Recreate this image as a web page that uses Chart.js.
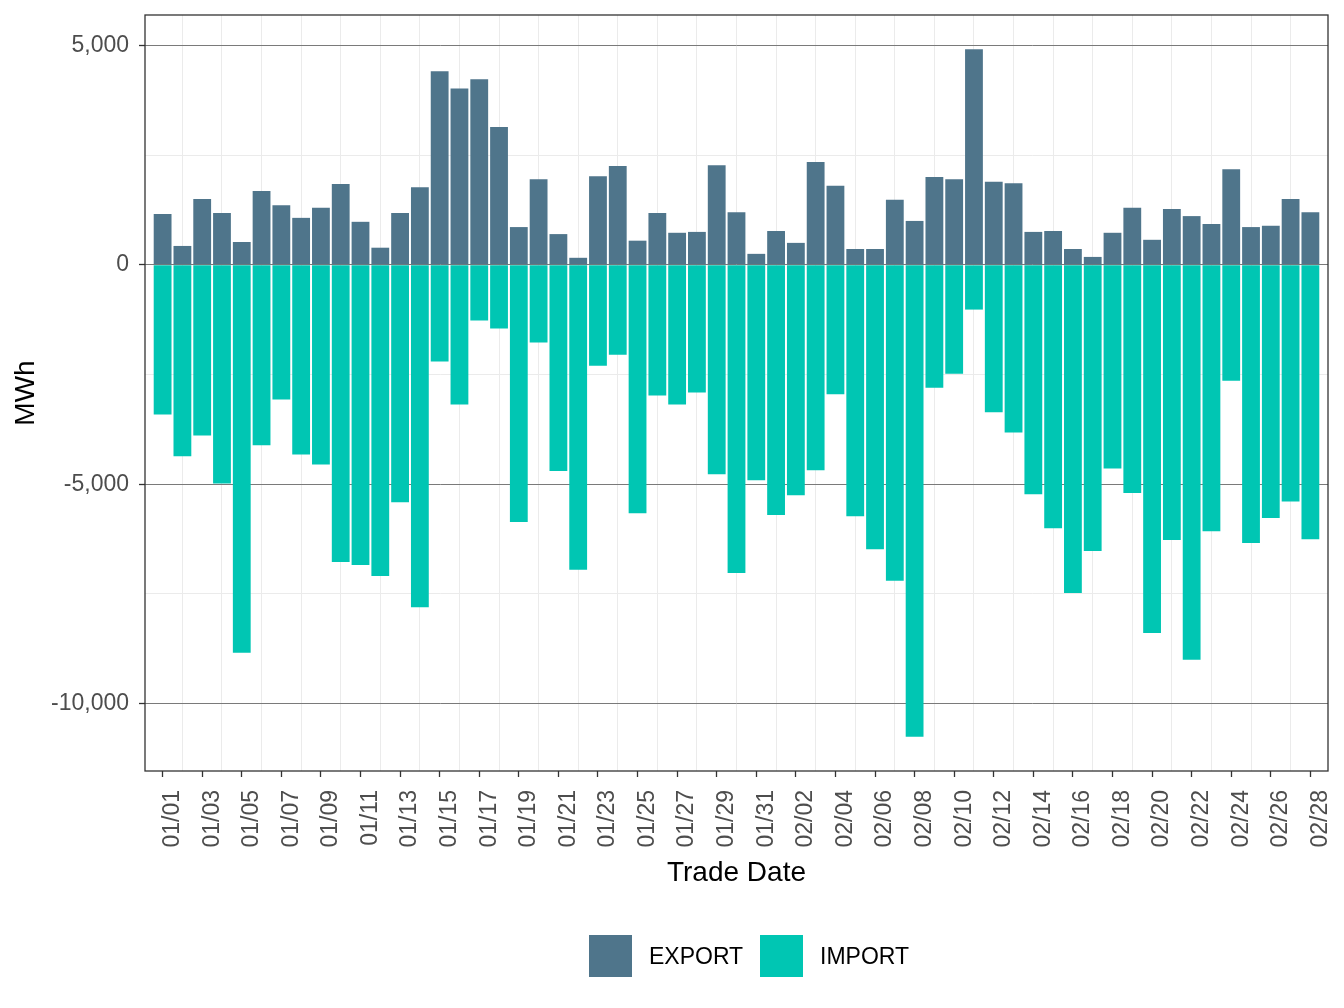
<!DOCTYPE html>
<html>
<head>
<meta charset="utf-8">
<script src="https://cdn.jsdelivr.net/npm/chart.js@4"></script>
<style>
  body { margin: 0; background: #fff; }
  .wrap { position: relative; width: 1344px; height: 1008px; font-family: "Liberation Sans", Arial, sans-serif; }
  .legend { position: absolute; top: 935px; left: 0; width: 1344px; height: 42px; }
  .legend-item { position: absolute; top: 0; height: 42px; display: flex; align-items: center; }
  .legend-box { width: 43px; height: 42px; margin-right: 17px; }
  .legend-text { font-size: 23px; color: #000; }
</style>
</head>
<body>
<div class="wrap">
  <canvas id="flowChart" width="1344" height="1008"></canvas>
  <div class="legend" id="legend"></div>
</div>
<script>
const tradeDates = [
  "01/01", "01/02", "01/03", "01/04", "01/05", "01/06", "01/07", "01/08", "01/09", "01/10",
  "01/11", "01/12", "01/13", "01/14", "01/15", "01/16", "01/17", "01/18", "01/19", "01/20",
  "01/21", "01/22", "01/23", "01/24", "01/25", "01/26", "01/27", "01/28", "01/29", "01/30",
  "01/31", "02/01", "02/02", "02/03", "02/04", "02/05", "02/06", "02/07", "02/08", "02/09",
  "02/10", "02/11", "02/12", "02/13", "02/14", "02/15", "02/16", "02/17", "02/18", "02/19",
  "02/20", "02/21", "02/22", "02/23", "02/24", "02/25", "02/26", "02/27", "02/28"
];

const exportMWh = [
  1160, 430, 1500, 1180, 520, 1680, 1360, 1070, 1300, 1840,
  980, 390, 1180, 1770, 4410, 4020, 4230, 3140, 860, 1950,
  700, 160, 2020, 2250, 550, 1180, 730, 750, 2270, 1200,
  250, 770, 500, 2340, 1800, 360, 360, 1480, 1000, 2000,
  1950, 4910, 1890, 1860, 750, 770, 360, 180, 730, 1300,
  570, 1270, 1110, 930, 2180, 860, 890, 1500, 1200
];

const importMWh = [
  -3410, -4360, -3890, -4980, -8840, -4110, -3070, -4320, -4550, -6770,
  -6840, -7090, -5410, -7800, -2200, -3180, -1270, -1450, -5860, -1770,
  -4700, -6950, -2300, -2050, -5660, -2980, -3180, -2910, -4770, -7020,
  -4910, -5700, -5250, -4680, -2950, -5730, -6480, -7200, -10750, -2800,
  -2480, -1020, -3360, -3820, -5230, -6000, -7480, -6520, -4640, -5200,
  -8390, -6270, -9000, -6070, -2640, -6340, -5770, -5390, -6250
];

const seriesNames = ["EXPORT", "IMPORT"];
const seriesColors = ["#4f758b", "#00c6b3"];

const yMajorTicks = [-10000, -5000, 0, 5000];
const yMinorTicks = [-7500, -2500, 2500];

const FONT = "'Liberation Sans', Arial, sans-serif";

// full panel border like theme_bw
const panelBorder = {
  id: "panelBorder",
  afterDraw(chart) {
    const { ctx, chartArea: a } = chart;
    ctx.save();
    ctx.strokeStyle = "#333333";
    ctx.lineWidth = 1.3;
    ctx.strokeRect(a.left, a.top, a.right - a.left, a.bottom - a.top);
    ctx.restore();
  }
};

const toPoints = (vals) => vals.map((v, i) => ({ x: i, y: v }));

new Chart(document.getElementById("flowChart"), {
  type: "bar",
  data: {
    datasets: [
      {
        label: seriesNames[0],
        data: toPoints(exportMWh),
        backgroundColor: seriesColors[0],
        grouped: false,
        barPercentage: 0.9,
        categoryPercentage: 1.0,
      },
      {
        label: seriesNames[1],
        data: toPoints(importMWh),
        backgroundColor: seriesColors[1],
        grouped: false,
        barPercentage: 0.9,
        categoryPercentage: 1.0,
      },
    ],
  },
  plugins: [panelBorder],
  options: {
    responsive: false,
    devicePixelRatio: 1,
    animation: false,
    layout: { padding: { left: 0, top: 15, right: 16, bottom: 0 } },
    plugins: {
      legend: { display: false },
      tooltip: { enabled: false },
    },
    scales: {
      x: {
        type: "linear",
        offset: false,
        min: -0.89,
        max: 58.89,
        afterBuildTicks: (scale) => {
          scale.ticks = tradeDates.map((d, i) => ({ value: i }));
        },
        afterFit: (scale) => {
          scale.height = 1008 - 771;
          scale.paddingLeft = 0;
          scale.paddingRight = 0;
        },
        border: { display: false },
        grid: {
          offset: false,
          color: (ctx) => (ctx.tick && ctx.tick.value % 2 === 1 ? "#ebebeb" : "rgba(0,0,0,0)"),
          lineWidth: 1,
          tickLength: 6,
          tickWidth: 1.3,
          tickColor: (ctx) => (ctx.tick && ctx.tick.value % 2 === 0 ? "#333333" : "rgba(0,0,0,0)"),
        },
        ticks: {
          autoSkip: false,
          minRotation: 90,
          maxRotation: 90,
          padding: 13,
          labelOffset: 10,
          color: "#4d4d4d",
          font: { family: FONT, size: 23, lineHeight: 0.92 },
          callback: (value) => (value % 2 === 0 ? tradeDates[value] : ""),
        },
        title: {
          display: true,
          text: "Trade Date",
          color: "#000",
          font: { family: FONT, size: 28, lineHeight: 1 },
          padding: { top: 0, bottom: 121 },
        },
      },
      y: {
        min: -11533,
        max: 5692,
        afterBuildTicks: (scale) => {
          scale.ticks = yMajorTicks.concat(yMinorTicks).sort((a, b) => a - b).map((v) => ({ value: v }));
        },
        afterFit: (scale) => {
          scale.width = 145;
          scale.paddingTop = 0;
          scale.paddingBottom = 0;
        },
        border: { display: false },
        grid: {
          color: (ctx) => (ctx.tick && yMajorTicks.includes(ctx.tick.value) ? "#7a7a7a" : "#ebebeb"),
          lineWidth: 1,
          tickLength: 6,
          tickWidth: 1.3,
          tickColor: (ctx) => (ctx.tick && yMajorTicks.includes(ctx.tick.value) ? "#333333" : "rgba(0,0,0,0)"),
        },
        ticks: {
          padding: 10,
          color: "#4d4d4d",
          font: { family: FONT, size: 23 },
          callback: (value) => (yMajorTicks.includes(value) ? value.toLocaleString("en-US") : ""),
        },
        title: {
          display: true,
          text: "MWh",
          color: "#000",
          font: { family: FONT, size: 28, lineHeight: 1 },
          padding: { top: 12, bottom: 0 },
        },
      },
    },
  },
});

// legend below the plot, same layout as ggplot's bottom legend
const legend = document.getElementById("legend");
const legendLeft = [589, 760];
seriesNames.forEach((name, i) => {
  const item = document.createElement("div");
  item.className = "legend-item";
  item.style.left = legendLeft[i] + "px";
  item.innerHTML = '<div class="legend-box" style="background:' + seriesColors[i] + '"></div>' +
    '<span class="legend-text">' + name + '</span>';
  legend.appendChild(item);
});
</script>
</body>
</html>
